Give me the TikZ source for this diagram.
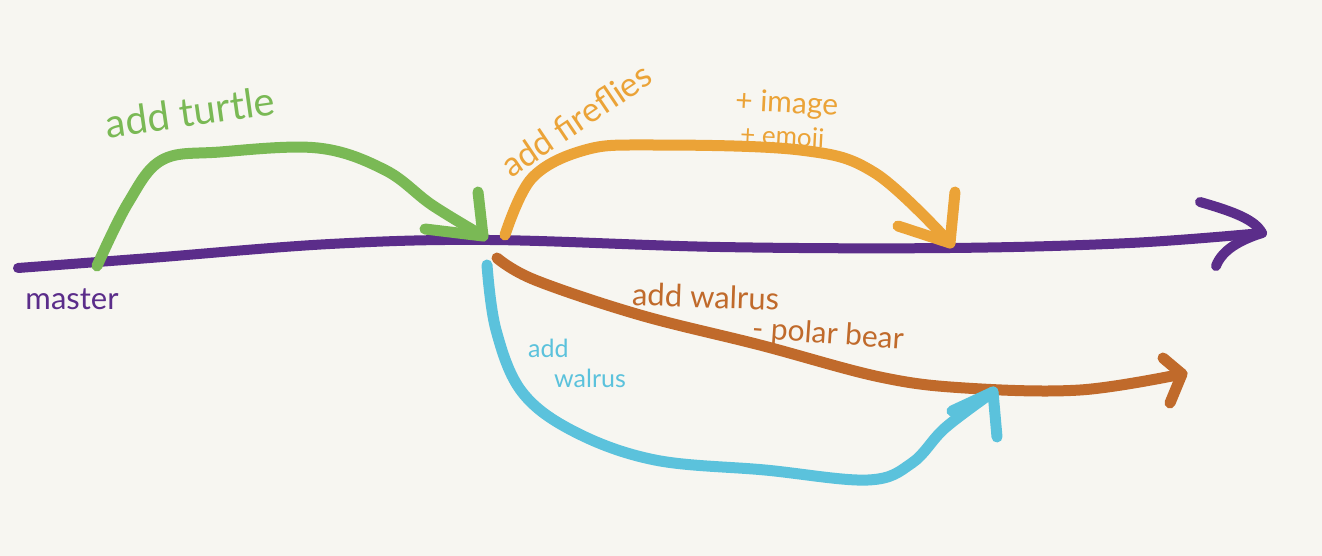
\documentclass[tikz,border=0pt]{standalone}
\usepackage{fontspec}
\setmainfont{Lato}
\definecolor{bg}{HTML}{F7F6F1}
\definecolor{cpur}{HTML}{5B2D8A}
\definecolor{cgre}{HTML}{7AB955}
\definecolor{cora}{HTML}{EBA337}
\definecolor{cbro}{HTML}{C06A2B}
\definecolor{ccya}{HTML}{5BC2DC}
\begin{document}
\begin{tikzpicture}[x=1pt,y=-1pt,
  stroke/.style={line width=11pt,line cap=round,line join=round},
  hand/.style={font=\fontsize{#1}{#1}\selectfont,inner sep=0pt}]
\fill[bg] (0,0) rectangle (1322,556);
\useasboundingbox (0,0) rectangle (1322,556);
% main line
\coordinate (m0) at (18,268);
\coordinate (m1) at (150,258);
\coordinate (m2) at (330,244);
\coordinate (m3) at (490,240);
\coordinate (m4) at (720,247);
\coordinate (m5) at (950,248);
\coordinate (m6) at (1130,243);
\coordinate (mE) at (1262,233);
\coordinate (mA) at (1200,202);
\coordinate (mB) at (1216,266);
\draw[stroke,cpur,line width=10pt] plot[smooth,tension=0.6] coordinates {(m0) (m1) (m2) (m3) (m4) (m5) (m6) (mE)};
\draw[stroke,cpur,line width=10pt] (mA) .. controls (1235,212) and (1255,220) .. (mE) .. controls (1240,240) and (1222,250) .. (mB);
% green
\coordinate (g0) at (97,266);
\coordinate (g1) at (128,203);
\coordinate (g2) at (162,160);
\coordinate (g3) at (220,152);
\coordinate (g4) at (318,148);
\coordinate (g5) at (385,170);
\coordinate (g6) at (432,205);
\coordinate (gE) at (483,236);
\coordinate (gA) at (425,229);
\coordinate (gB) at (478,192);
\draw[stroke,cgre] plot[smooth,tension=0.6] coordinates {(g0) (g1) (g2) (g3) (g4) (g5) (g6) (gE)};
\draw[stroke,cgre] (gA) -- (gE) -- (gB);
% orange
\coordinate (o0) at (505,235);
\coordinate (o1) at (532,178);
\coordinate (o2) at (585,150);
\coordinate (o3) at (650,145);
\coordinate (o4) at (800,150);
\coordinate (o5) at (875,173);
\coordinate (oE) at (950,243);
\coordinate (oA) at (898,226);
\coordinate (oB) at (955,192);
\draw[stroke,cora] plot[smooth,tension=0.6] coordinates {(o0) (o1) (o2) (o3) (o4) (o5) (oE)};
\draw[stroke,cora] (oA) -- (oE) -- (oB);
% brown
\coordinate (b0) at (497,258);
\coordinate (b1) at (535,280);
\coordinate (b2) at (640,315);
\coordinate (b3) at (760,345);
\coordinate (b4) at (880,377);
\coordinate (b5) at (965,388);
\coordinate (b6) at (1080,390);
\coordinate (bE) at (1182,374);
\coordinate (bA) at (1163,358);
\coordinate (bB) at (1170,403);
\draw[stroke,cbro] plot[smooth,tension=0.6] coordinates {(b0) (b1) (b2) (b3) (b4) (b5) (b6) (bE)};
\draw[stroke,cbro] (bA) -- (bE) -- (bB);
% cyan
\coordinate (c0) at (487,265);
\coordinate (c1) at (496,330);
\coordinate (c2) at (522,392);
\coordinate (c3) at (575,432);
\coordinate (c4) at (655,460);
\coordinate (c5) at (765,470);
\coordinate (c6) at (868,480);
\coordinate (c7) at (912,463);
\coordinate (c8) at (945,428);
\coordinate (cE) at (993,392);
\coordinate (cA) at (952,411);
\coordinate (cB) at (997,437);
\draw[stroke,ccya] plot[smooth,tension=0.6] coordinates {(c0) (c1) (c2) (c3) (c4) (c5) (c6) (c7) (c8) (cE)};
\draw[stroke,ccya] (cA) -- (cE) -- (cB);
% labels
\node[hand=31,text=cpur] (tmaster) at (72,299) {master};
\node[hand=40,text=cgre,rotate=8] (tturtle) at (190,112) {add turtle};
\node[hand=34,text=cora,rotate=34] (tfire) at (576,120) {add fireflies};
\node[hand=30,text=cora,anchor=west,rotate=-3] (timage) at (735,102) {+ image};
\node[hand=26,text=cora,anchor=west,rotate=-3] (temoji) at (740,136) {+ emoji};
\node[hand=31,text=cbro,anchor=west,rotate=-2] (twal1) at (632,294) {add walrus};
\node[hand=30,text=cbro,anchor=west,rotate=-4] (tpolar) at (752,330) {- polar bear};
\node[hand=25,text=ccya,anchor=west] (twal2a) at (528,348) {add};
\node[hand=25,text=ccya,anchor=west] (twal2b) at (554,378) {walrus};
\end{tikzpicture}
\end{document}
